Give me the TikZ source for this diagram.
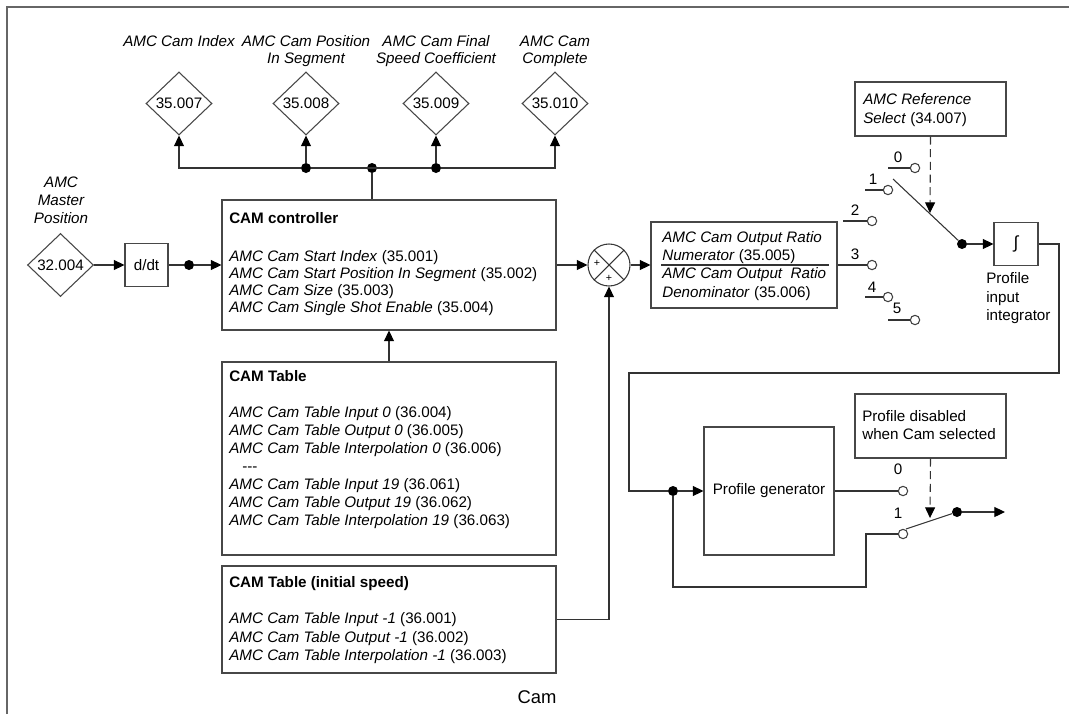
\documentclass[tikz,border=0pt]{standalone}
\usepackage{fontspec}
\setmainfont{Liberation Sans}
\usetikzlibrary{arrows.meta,shapes.geometric,calc}
\begin{document}
\begin{tikzpicture}[x=0.75pt,y=-0.75pt,
  every node/.style={font=\fontsize{11.4pt}{13pt}\selectfont},
  ln/.style={draw=black!80, line width=0.8pt},
  arr/.style={ln,-{Triangle[length=8pt,width=7.5pt,color=black]}},
  dsh/.style={ln,dash pattern=on 6pt off 3.5pt,-{Triangle[length=8pt,width=7.5pt,color=black]}},
  box/.style={draw=black!72, line width=0.8pt, rectangle, inner sep=0pt},
  dmd/.style={diamond, draw=black!72, line width=0.8pt, inner sep=0pt, minimum width=49.5pt, minimum height=47.25pt},
  jdot/.style={circle, fill=black, inner sep=0pt, minimum size=7.5pt},
  contact/.style={circle, draw=black!75, fill=white, line width=0.8pt, inner sep=0pt, minimum size=7pt},
  txt/.style={inner sep=0pt, anchor=base west},
  ctxt/.style={inner sep=0pt, anchor=base},
  itl/.style={ctxt, font=\fontsize{11.4pt}{13pt}\selectfont\itshape},
  frame/.style={draw=black!60, line width=1.1pt}
]
\useasboundingbox (0,0) rectangle (1069,714);
% frame
\draw[frame] (7,714) -- (7,7) -- (1069,7);

% ---------- top outputs ----------
\node[itl] (l7a) at (179,46) {AMC Cam Index};
\node[itl] (l8a) at (306,46) {AMC Cam Position};
\node[itl] (l8b) at (306,63) {In Segment};
\node[itl] (l9a) at (436,46) {AMC Cam Final};
\node[itl] (l9b) at (436,63) {Speed Coefficient};
\node[itl] (l10a) at (555,46) {AMC Cam};
\node[itl] (l10b) at (555,63) {Complete};

\node[dmd] (d7) at (179,103.5) {35.007};
\node[dmd] (d8) at (306,103.5) {35.008};
\node[dmd] (d9) at (436,103.5) {35.009};
\node[dmd] (d10) at (555,103.5) {35.010};

\node[jdot] (b1) at (306,168) {};
\node[jdot] (b2) at (372,168) {};
\node[jdot] (b3) at (436,168) {};

% ---------- master position ----------
\node[itl] (m1) at (61,187) {AMC};
\node[itl] (m2) at (61,205) {Master};
\node[itl] (m3) at (61,223) {Position};
\node[dmd] (md) at (60.5,265) {32.004};
\node[box, minimum width=32.25pt, minimum height=32.25pt] (ddt) at (146.5,265) {d/dt};
\node[jdot] (dd) at (189,265) {};

% ---------- CAM controller ----------
\node[box, minimum width=250.5pt, minimum height=97.5pt] (cc) at (389,265) {};
\node[txt] (cct) at (229,223) {\textbf{CAM controller}};
\node[txt] (cc1) at (229,261) {\textit{AMC Cam Start Index} (35.001)};
\node[txt] (cc2) at (229,278) {\textit{AMC Cam Start Position In Segment} (35.002)};
\node[txt] (cc3) at (229,295) {\textit{AMC Cam Size} (35.003)};
\node[txt] (cc4) at (229,312) {\textit{AMC Cam Single Shot Enable} (35.004)};

% ---------- CAM table ----------
\node[box, minimum width=250.5pt, minimum height=144.75pt] (ctab) at (389,458.5) {};
\node[txt] (ctt) at (229,381) {\textbf{CAM Table}};
\node[txt] (ct1) at (229,417) {\textit{AMC Cam Table Input 0} (36.004)};
\node[txt] (ct2) at (229,435) {\textit{AMC Cam Table Output 0} (36.005)};
\node[txt] (ct3) at (229,453) {\textit{AMC Cam Table Interpolation 0} (36.006)};
\node[txt] (ct4) at (242,471) {{-}{-}{-}};
\node[txt] (ct5) at (229,489) {\textit{AMC Cam Table Input 19} (36.061)};
\node[txt] (ct6) at (229,507) {\textit{AMC Cam Table Output 19} (36.062)};
\node[txt] (ct7) at (229,525) {\textit{AMC Cam Table Interpolation 19} (36.063)};

% ---------- CAM table initial speed ----------
\node[box, minimum width=250.5pt, minimum height=80.25pt] (isp) at (389,619.5) {};
\node[txt] (ist) at (229,587) {\textbf{CAM Table (initial speed)}};
\node[txt] (is1) at (229,623) {\textit{AMC Cam Table Input -1} (36.001)};
\node[txt] (is2) at (229,642) {\textit{AMC Cam Table Output -1} (36.002)};
\node[txt] (is3) at (229,660) {\textit{AMC Cam Table Interpolation -1} (36.003)};

\node[ctxt,font=\fontsize{13.8pt}{16pt}\selectfont] (cap) at (537,703) {Cam};

% ---------- summing junction ----------
\node[circle, draw=black!78, line width=0.8pt, minimum size=31.5pt, inner sep=0pt] (sj) at (609,265) {};
\draw[ln] (sj.north west) -- (sj.south east);
\draw[ln] (sj.north east) -- (sj.south west);
\node[inner sep=0pt,font=\fontsize{8pt}{9pt}\selectfont] (sp1) at (597,263) {+};
\node[inner sep=0pt,font=\fontsize{8pt}{9pt}\selectfont] (sp2) at (609,278) {+};

% ---------- ratio ----------
\node[box, minimum width=139.5pt, minimum height=64.5pt] (ratio) at (744,265) {};
\node[txt] (r1) at (662,242) {\textit{AMC Cam Output Ratio}};
\node[txt] (r2) at (662,260) {\textit{Numerator} (35.005)};
\node[txt] (r3) at (662,278) {\textit{AMC Cam Output\ \ Ratio}};
\node[txt] (r4) at (662,297) {\textit{Denominator} (35.006)};
\coordinate (fl1) at (661,265);
\coordinate (fl2) at (829,265);
\draw[ln] (fl1) -- (fl2);

% ---------- selector switch ----------
\node[box, minimum width=113.25pt, minimum height=40.5pt] (refsel) at (930.5,109) {};
\node[txt] (rs1) at (863,104) {\textit{AMC Reference}};
\node[txt] (rs2) at (863,123) {\textit{Select} (34.007)};

\node[contact] (c0) at (915,168) {};
\node[contact] (c1) at (888,190) {};
\node[contact] (c2) at (872,221) {};
\node[contact] (c3) at (872,265) {};
\node[contact] (c4) at (888,297) {};
\node[contact] (c5) at (915,320) {};
\coordinate (s0) at (888,168);
\coordinate (s1) at (865,190);
\coordinate (s2) at (843,221);
\coordinate (s4) at (865,297);
\coordinate (s5) at (888,320);
\draw[ln] (s0) -- (c0.west);
\draw[ln] (s1) -- (c1.west);
\draw[ln] (s2) -- (c2.west);
\draw[ln] (ratio.east) -- (c3.west);
\draw[ln] (s4) -- (c4.west);
\draw[ln] (s5) -- (c5.west);
\node[ctxt] (n0) at (898,162) {0};
\node[ctxt] (n1) at (873,184) {1};
\node[ctxt] (n2) at (855,215) {2};
\node[ctxt] (n3) at (855,259) {3};
\node[ctxt] (n4) at (872,292) {4};
\node[ctxt] (n5) at (897,313) {5};

\node[jdot] (sw) at (962,244) {};
\coordinate (bl) at (893,179);
\draw[ln] (bl) -- (sw);
\coordinate (tip1) at (930,213);
\draw[dsh] (refsel.south) -- (tip1);

\node[box, minimum width=33pt, minimum height=32.25pt, font=\fontsize{13pt}{15pt}\selectfont] (integ) at (1016,244) {∫};
\node[txt] (pi1) at (986,283) {Profile};
\node[txt] (pi2) at (986,302) {input};
\node[txt] (pi3) at (986,320) {integrator};

% ---------- profile generator ----------
\node[box, minimum width=97.5pt, minimum height=96pt] (pgen) at (769,491) {Profile generator};
\node[jdot] (pd) at (673,491) {};
\node[contact] (p0) at (903,491) {};
\node[contact] (p1) at (903,534) {};
\node[ctxt] (pn0) at (898,474) {0};
\node[ctxt] (pn1) at (898,518) {1};
\node[box, minimum width=113.25pt, minimum height=48pt] (pdis) at (930.5,426) {};
\node[txt] (pt1) at (862,421) {Profile disabled};
\node[txt] (pt2) at (862,439) {when Cam selected};
\node[jdot] (pw) at (957,512) {};
\coordinate (bl2) at (906,529);
\coordinate (tip2) at (930,518);
\coordinate (outp) at (1005,512);
\coordinate (rr1) at (1059,373);
\coordinate (rr2) at (629,373);
\coordinate (q1) at (866,587);

% ---------- connectors ----------
\draw[arr] (md.east) -- (ddt.west);
\draw[ln] (ddt.east) -- (dd);
\draw[arr] (dd) -- (cc.west);
\draw[ln] (cc.north -| b2) -- (b2);
\draw[ln] (b1) -- (b3);
\draw[arr] (b1) -| (d7.south);
\draw[arr] (b1) -- (d8.south);
\draw[arr] (b3) -- (d9.south);
\draw[arr] (b3) -| (d10.south);
\draw[arr] (ctab.north) -- (cc.south);
\draw[arr] (cc.east) -- (sj.west);
\draw[arr] (isp.east) -| (sj.south);
\draw[arr] (sj.east) -- (ratio.west);
\draw[arr] (sw) -- (integ.west);
\draw[ln] (integ.east) -| (rr1) -- (rr2) |- (pd);
\draw[arr] (pd) -- (pgen.west);
\draw[ln] (pgen.east) -- (p0.west);
\draw[ln] (pd) |- (q1) |- (p1.west);
\draw[ln] (bl2) -- (pw);
\draw[arr] (pw) -- (outp);
\draw[dsh] (pdis.south) -- (tip2);
\end{tikzpicture}
\end{document}
